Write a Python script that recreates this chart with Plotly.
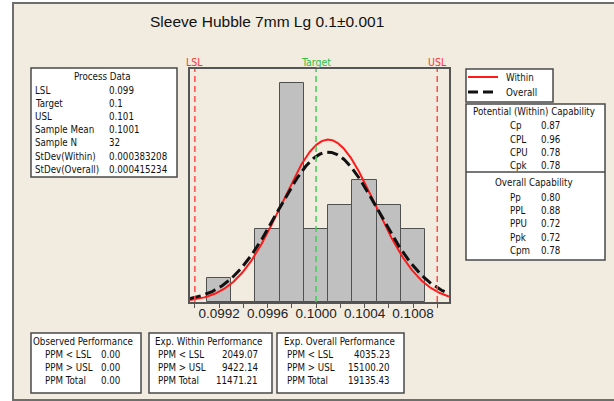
import numpy as np
import plotly.graph_objects as go

# ---- process data ----
lsl = 0.099
target = 0.1
usl = 0.101
sample_mean = 0.1001
sample_n = 32
sd_within = 0.000383208
sd_overall = 0.000415234

# ---- histogram ----
bin_centers = [0.0992, 0.0994, 0.0996, 0.0998, 0.1000, 0.1002, 0.1004, 0.1006, 0.1008]
bin_counts = [1, 0, 3, 9, 3, 4, 5, 4, 3]
bin_width = 0.0002

tick_vals = [0.0990, 0.0992, 0.0994, 0.0996, 0.0998, 0.1000, 0.1002, 0.1004, 0.1006, 0.1008, 0.1010]
tick_text = ["", "0.0992", "", "0.0996", "", "0.1000", "", "0.1004", "", "0.1008", ""]

# ---- capability tables ----
within_cap_labels = ["Cp", "CPL", "CPU", "Cpk"]
within_cap_values = ["0.87", "0.96", "0.78", "0.78"]
overall_cap_labels = ["Pp", "PPL", "PPU", "Ppk", "Cpm"]
overall_cap_values = ["0.80", "0.88", "0.72", "0.72", "0.78"]

perf_labels = ["PPM &lt; LSL", "PPM &gt; USL", "PPM Total"]
observed_perf = ["0.00", "0.00", "0.00"]
within_perf = ["2049.07", "9422.14", "11471.21"]
overall_perf = ["4035.23", "15100.20", "19135.43"]

W_PX, H_PX = 614, 401
PL, PR, PT, PB = 190, 449, 69, 302
X_RANGE = [0.09896, 0.101097]
Y_RANGE = [0, 9.56]
FONT = "Liberation Sans, Arial, sans-serif"
BOX_FAMILY = "DejaVu Sans Condensed, DejaVu Sans, sans-serif"
BOX_FONT = 9.7
BOX_LINE = "#4a4a4a"


def px(x):
    return (x - PL) / (PR - PL)


def py(y):
    return (PB - y) / (PB - PT)


fig = go.Figure()

fig.add_trace(go.Bar(
    x=bin_centers, y=bin_counts, width=bin_width,
    marker=dict(color="#c0c0c0", line=dict(color="#505050", width=1)),
    showlegend=False, hoverinfo="skip",
))

# fitted normal curves scaled to counts
xs = np.linspace(X_RANGE[0], X_RANGE[1], 400)
scale = sample_n * bin_width


def normal_counts(sd):
    return scale * np.exp(-0.5 * ((xs - sample_mean) / sd) ** 2) / (sd * np.sqrt(2 * np.pi))


fig.add_trace(go.Scatter(x=xs, y=normal_counts(sd_within), mode="lines",
                         line=dict(color="#ff1a1a", width=2), name="Within",
                         showlegend=False, hoverinfo="skip"))
fig.add_trace(go.Scatter(x=xs, y=normal_counts(sd_overall), mode="lines",
                         line=dict(color="#111111", width=3, dash="11px,5px"), name="Overall",
                         showlegend=False, hoverinfo="skip"))

shapes = []
annotations = []

# window frame
shapes.append(dict(type="rect", xref="paper", yref="paper",
                   x0=px(13), x1=px(620), y0=py(400), y1=py(3),
                   fillcolor="#f1ebe0", line=dict(color="#6e6e6e", width=2), layer="below"))

# spec limit lines
for val, col in [(lsl, "#ff4d4d"), (target, "#44cc55"), (usl, "#ff4d4d")]:
    shapes.append(dict(type="line", xref="x", yref="paper", x0=val, x1=val, y0=0, y1=1,
                       line=dict(color=col, width=1.5, dash="6px,4px")))
for val, txt, col in [(lsl, "LSL", "#ff3333"), (target, "Target", "#33bb44"), (usl, "USL", "#ff3333")]:
    annotations.append(dict(x=val, y=py(62), xref="x", yref="paper", text=txt, showarrow=False,
                            xanchor="center", yanchor="middle",
                            font=dict(family=BOX_FAMILY, size=10.5, color=col)))


def box(x0, x1, y0, y1):
    shapes.append(dict(type="rect", xref="paper", yref="paper",
                       x0=px(x0), x1=px(x1), y0=py(y1), y1=py(y0),
                       fillcolor="white", line=dict(color=BOX_LINE, width=1.5)))


def text(x, y, s, anchor="left", size=BOX_FONT, color="#111111", family=BOX_FAMILY):
    annotations.append(dict(x=px(x), y=py(y), xref="paper", yref="paper", text=s,
                            showarrow=False, xanchor=anchor, yanchor="middle",
                            font=dict(family=family, size=size, color=color)))


# process data box
box(31, 177, 68, 177)
text(102, 76, "Process Data", "center")
pd_labels = ["LSL", "Target", "USL", "Sample Mean", "Sample N", "StDev(Within)", "StDev(Overall)"]
pd_values = [f"{lsl:g}", f"{target:g}", f"{usl:g}", f"{sample_mean:g}", str(sample_n),
             f"{sd_within:.9f}", f"{sd_overall:.9f}"]
for i, (lab, val) in enumerate(zip(pd_labels, pd_values)):
    y = 90 + 13.2 * i
    text(33, y, lab)
    text(107, y, val)

# legend box
box(466, 553, 69, 102)
shapes.append(dict(type="line", xref="paper", yref="paper", x0=px(468), x1=px(498),
                   y0=py(77), y1=py(77), line=dict(color="#ff1a1a", width=2)))
shapes.append(dict(type="line", xref="paper", yref="paper", x0=px(468), x1=px(498),
                   y0=py(92), y1=py(92), line=dict(color="#111111", width=3, dash="10px,5px")))
text(504, 77, "Within")
text(504, 92, "Overall")

# capability box
box(466, 605, 104, 260)
shapes.append(dict(type="line", xref="paper", yref="paper", x0=px(466), x1=px(605),
                   y0=py(172), y1=py(172), line=dict(color=BOX_LINE, width=1.5)))
text(534, 112, "Potential (Within) Capability", "center")
for i, (lab, val) in enumerate(zip(within_cap_labels, within_cap_values)):
    y = 126 + 13.1 * i
    text(508, y, lab)
    text(539, y, val)
text(534, 182, "Overall Capability", "center")
for i, (lab, val) in enumerate(zip(overall_cap_labels, overall_cap_values)):
    y = 197 + 13.4 * i
    text(508, y, lab)
    text(539, y, val)

# performance boxes
perf_boxes = [
    (31, 141, "Observed Performance", 83, 43, 122, observed_perf),
    (149, 272, "Exp. Within Performance", 208, 156, 260, within_perf),
    (277, 404, "Exp. Overall Performance", 339, 285, 392, overall_perf),
]
for x0, x1, title, tx, lx, vx, vals in perf_boxes:
    box(x0, x1, 333, 393)
    text(tx, 341, title, "center")
    for i, (lab, val) in enumerate(zip(perf_labels, vals)):
        y = 354.3 + 13.3 * i
        text(lx, y, lab)
        text(vx, y, val, "right")

# chart title
text(267, 22, "Sleeve Hubble 7mm Lg 0.1\u00b10.001", "center", size=15.5, color="#111111",
     family=FONT)

fig.update_layout(
    width=W_PX, height=H_PX,
    margin=dict(l=PL, r=W_PX - PR, t=PT, b=H_PX - PB),
    paper_bgcolor="white", plot_bgcolor="white",
    shapes=shapes, annotations=annotations,
    bargap=0, showlegend=False,
    xaxis=dict(range=X_RANGE, tickvals=tick_vals, ticktext=tick_text,
               ticks="outside", ticklen=4, tickcolor="#555555", showgrid=False, zeroline=False,
               showline=True, linecolor="#555555", linewidth=1.5, mirror=True,
               ticklabelstandoff=-6,
               tickfont=dict(family=FONT, size=13.5, color="#222222")),
    yaxis=dict(range=Y_RANGE, showticklabels=False, ticks="", showgrid=False, zeroline=False,
               showline=True, linecolor="#555555", linewidth=1.5, mirror=True),
)

fig.write_html("out.html")
